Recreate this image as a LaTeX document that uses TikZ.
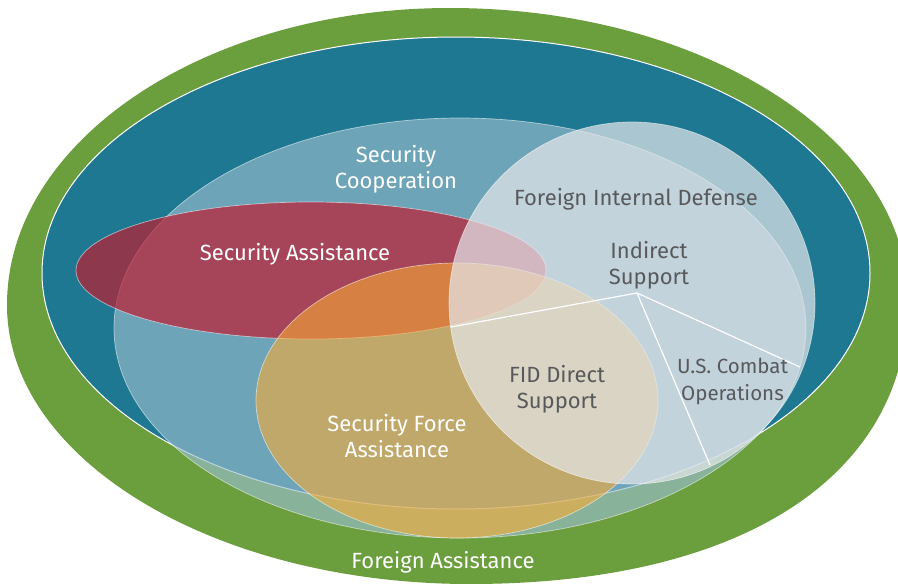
\documentclass[tikz,border=0pt]{standalone}
\usepackage{fontspec}
\setmainfont{Fira Sans}
\definecolor{fagreen}{RGB}{107,158,61}
\definecolor{tealfill}{RGB}{30,120,145}
\definecolor{scblue}{RGB}{153,189,205}
\definecolor{sared}{RGB}{190,30,50}
\definecolor{sfaorange}{RGB}{252,172,52}
\definecolor{fidgray}{RGB}{230,232,236}
\definecolor{labgray}{RGB}{88,89,91}
\begin{document}
\begin{tikzpicture}[x=1pt,y=-1pt,
  region/.style={draw=white, draw opacity=0.55, line width=0.7pt},
  labfont/.style={font=\fontsize{22}{26}\selectfont},
  whitelab/.style={labfont, text=white, align=center, inner sep=0pt},
  graylab/.style={labfont, text=labgray, align=center, inner sep=0pt},
  spoke/.style={draw=white, line width=1.2pt, line join=miter}]
\useasboundingbox (0,0) rectangle (898,584);
\clip (0,0) rectangle (898,584);
% Foreign Assistance (outer green)
\fill[fagreen] (7,305) .. controls (7,141) and (205,8) .. (450,8)
  .. controls (703,8) and (908,139) .. (908,300)
  .. controls (908,476) and (742,584) .. (470,584)
  .. controls (214,584) and (7,459) .. (7,305) -- cycle;
% teal ellipse
\fill[tealfill] (456,273) ellipse [x radius=414pt, y radius=236pt];
\draw[white, line width=1pt] (456,273) ellipse [x radius=414pt, y radius=236pt];
% Security Cooperation
\path[region, fill=scblue, fill opacity=0.65] (460,328) ellipse [x radius=346pt, y radius=210pt];
% Security Assistance
\path[region, fill=sared, fill opacity=0.7] (311,270.5) ellipse [x radius=235pt, y radius=68.5pt];
% Security Force Assistance
\path[region, fill=sfaorange, fill opacity=0.58] (457,400.5) ellipse [x radius=201pt, y radius=137.5pt];
% Foreign Internal Defense
\path[region, fill=fidgray, fill opacity=0.7] (632,303) ellipse [x radius=183pt, y radius=181pt];
% spokes
\coordinate (hub) at (637,293);
\coordinate (fidwest) at (451,327);
\coordinate (fidsouth) at (710,465);
\coordinate (sceast) at (800,367);
\draw[spoke] (fidwest) -- (hub) -- (sceast);
\draw[spoke] (hub) -- (fidsouth);
% labels
\node[whitelab] (sc) at (396,169) {Security\\Cooperation};
\node[whitelab, anchor=base] (sa) at (295,260) {Security Assistance};
\node[graylab, anchor=base] (fid) at (636,205) {Foreign Internal Defense};
\node[graylab] (ind) at (649,265) {Indirect\\Support};
\node[graylab] (fds) at (557,389.5) {FID Direct\\Support};
\node[graylab, font=\fontsize{20.5}{27}\selectfont] (usc) at (732.5,381.5) {U.S. Combat\\Operations};
\node[whitelab] (sfa) at (397,436) {Security Force\\Assistance};
\node[whitelab, anchor=base] (fa) at (443,568) {Foreign Assistance};
\end{tikzpicture}
\end{document}
